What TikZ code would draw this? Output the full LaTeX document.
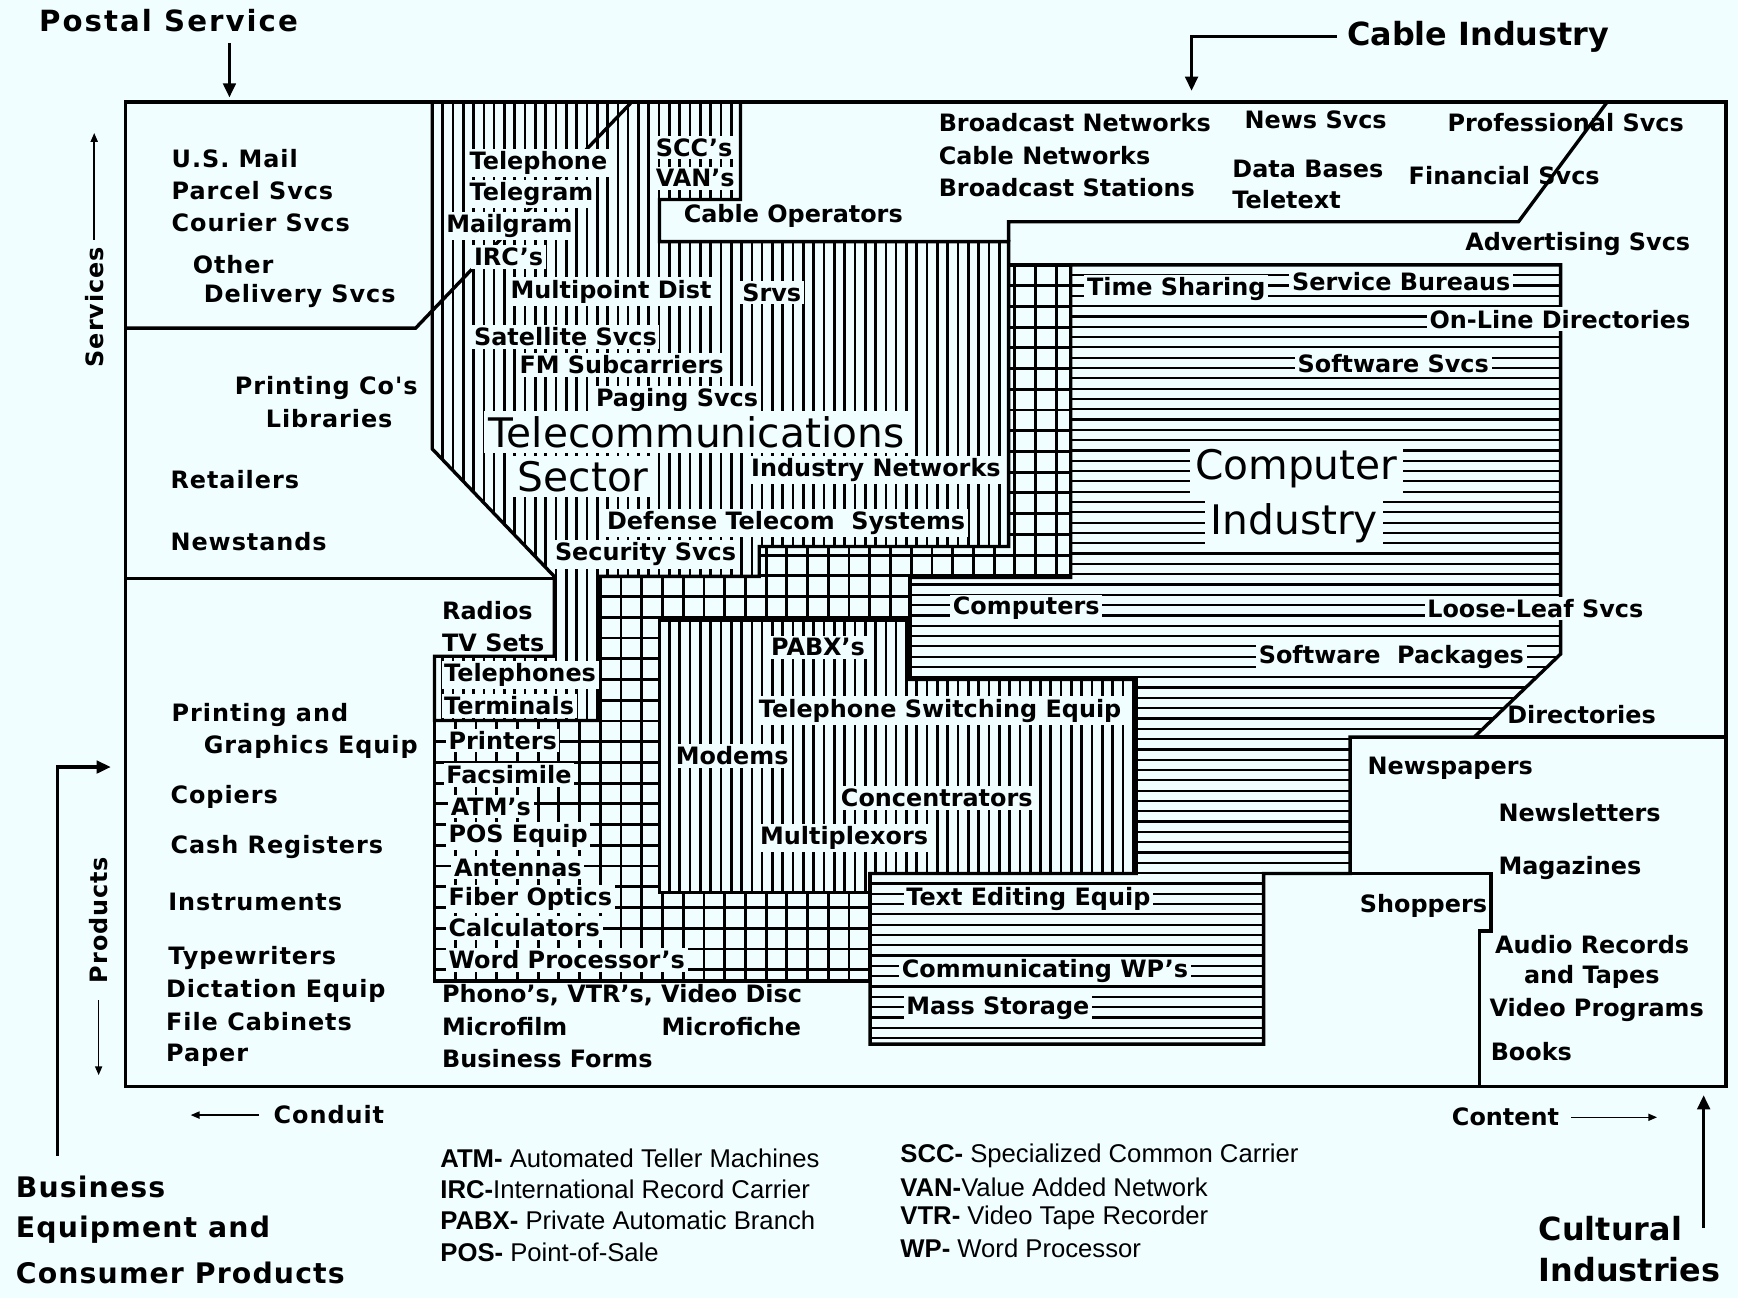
\documentclass[tikz,border=0pt]{standalone}
\usepackage{fontspec}
\setmainfont{DejaVu Sans}
\newfontfamily\spaced{DejaVu Sans}[LetterSpace=4]
\newfontfamily\wider{DejaVu Sans}[LetterSpace=7]
\newfontfamily\legfont{Liberation Sans}
\usetikzlibrary{arrows.meta}
\definecolor{bgc}{RGB}{240,254,255}

% region outlines (picture units = pixels of the map)
\def\telpoly{(390,92) -- (668,92) -- (668,180) -- (595,180) -- (595,218) -- (910,218) -- (910,493) -- (685,493) -- (685,520) -- (540,520) -- (540,650) -- (392,650) -- (392,592) -- (500,592) -- (500,520) -- (390,405) -- cycle}
\def\modempoly{(595,560) -- (821,560) -- (821,613) -- (1025,613) -- (1025,788) -- (785,788) -- (785,805) -- (595,805) -- cycle}
\def\gridpoly{(540,520) -- (685,520) -- (685,493) -- (910,493) -- (910,239) -- (966,239) -- (966,521) -- (821,521) -- (821,560) -- (595,560) -- (595,805) -- (785,805) -- (785,885) -- (392,885) -- (392,650) -- (540,650) -- cycle}
\def\comppoly{(966,239) -- (1408,239) -- (1408,590) -- (1330,665) -- (1218,665) -- (1218,788) -- (1140,788) -- (1140,942) -- (785,942) -- (785,788) -- (1025,788) -- (1025,613) -- (821,613) -- (821,521) -- (966,521) -- cycle}

\begin{document}
\begin{tikzpicture}[
    x=0.22mm, y=-0.22mm,
    frame/.style={line width=1.9pt},
    vhatch/.style={line width=1.5pt},
    hhatch/.style={line width=1.25pt},
    gline/.style={line width=1.6pt},
    svc/.style={anchor=west, inner sep=1pt, font=\spaced\bfseries\fontsize{13.5}{16}\selectfont},
    txt/.style={anchor=west, inner sep=1pt, font=\bfseries\fontsize{13.5}{16}\selectfont},
    lbl/.style={txt, fill=bgc, inner sep=1.5pt},
    sector/.style={anchor=west, inner sep=3pt, fill=bgc, font=\fontsize{23}{26}\selectfont},
    heading/.style={anchor=west, inner sep=0pt, font=\bfseries\fontsize{18}{22}\selectfont},
    legend/.style={anchor=west, inner sep=0pt, font=\legfont\fontsize{14.5}{17}\selectfont},
    bigarrow/.style={-{Triangle[length=8pt,width=7pt]}, line width=1.9pt},
    thinarrow/.style={-{Triangle[length=5pt,width=4pt]}, line width=0.9pt}
]

\useasboundingbox (0,0) rectangle (1568,1171);
\fill[bgc] (0,0) rectangle (1568,1171);

% Telecom only: vertical hatching
\begin{scope}
    \clip \telpoly \modempoly;
    \foreach \x in {390,399.3,...,1030}
        \draw[vhatch] (\x,90) -- (\x,810);
\end{scope}

% Telecom and computer: grid
\begin{scope}
    \clip \gridpoly;
    \foreach \x in {392,410.7,...,970}
        \draw[gline] (\x,235) -- (\x,890);
    \foreach \y in {239,257.7,...,890}
        \draw[gline] (385,\y) -- (970,\y);
\end{scope}

% Computer only: horizontal hatching
\begin{scope}
    \clip \comppoly;
    \foreach \y in {239,248.3,...,945}
        \draw[hhatch] (780,\y) -- (1410,\y);
\end{scope}

% Outlines
\draw[frame] (113,92) rectangle (1557,980);
\draw[frame] \telpoly;
\draw[frame] \modempoly;
\draw[frame] \gridpoly;
\draw[frame] \comppoly;
\draw[frame] (113,296) -- (375,296) -- (570,92);
\draw[frame] (113,522) -- (500,522);
\draw[frame] (910,218) -- (910,200) -- (1370,200) -- (1450,92);
\draw[frame] (1330,665) -- (1557,665);
\draw[frame] (1140,788) -- (1345,788) -- (1345,840) -- (1335,840) -- (1335,980);

% Postal and delivery services
\node[svc] (mail) at (153,143) {U.S. Mail};
\node[svc] (parcel) at (153,172) {Parcel Svcs};
\node[svc] (courier) at (153,201) {Courier Svcs};
\node[svc] (other) at (172,239) {Other};
\node[svc] (delivery) at (182,267) {Delivery Svcs};
\node[svc] (printco) at (210,350) {Printing Co's};
\node[svc] (libraries) at (238,378) {Libraries};
\node[svc] (retailers) at (152,433) {Retailers};
\node[svc] (newstands) at (152,489) {Newstands};

% Business equipment
\node[svc] (printeq) at (153,645) {Printing and};
\node[svc] (graphics) at (182,674) {Graphics Equip};
\node[svc] (copiers) at (152,719) {Copiers};
\node[svc] (cash) at (152,764) {Cash Registers};
\node[svc] (instruments) at (150,814) {Instruments};
\node[svc] (typewriters) at (150,864) {Typewriters};
\node[svc] (dictation) at (148,894) {Dictation Equip};
\node[svc] (cabinets) at (148,922) {File Cabinets};
\node[svc] (paper) at (148,952) {Paper};

% Telecommunications sector
\node[lbl] (telephone) at (421,147) {Telephone};
\node[lbl] (telegram) at (421,175) {Telegram};
\node[lbl] (mailgram) at (400,204) {Mailgram};
\node[lbl] (irc) at (425,232) {IRC's};
\node[lbl] (scc) at (589,133) {SCC's};
\node[lbl] (van) at (589,161) {VAN's};
\node[lbl] (mpd) at (458,263) {Multipoint Dist};
\node[lbl] (srvs) at (667,264) {Srvs};
\node[lbl] (satellite) at (425,304) {Satellite Svcs};
\node[lbl] (fm) at (466,329) {FM Subcarriers};
\node[lbl] (paging) at (535,361) {Paging Svcs};
\node[sector] (telecom) at (436,390) {Telecommunications};
\node[sector] (sector) at (462,430) {Sector};
\node[lbl] (indnet) at (675,424) {Industry Networks};
\node[lbl] (defense) at (545,472) {Defense Telecom~~Systems};
\node[lbl] (security) at (498,500) {Security Svcs};

% Content services
\node[txt] (cableop) at (615,195) {Cable Operators};
\node[txt] (bnet) at (845,111) {Broadcast Networks};
\node[txt] (cnet) at (845,140) {Cable Networks};
\node[txt] (bstat) at (845,169) {Broadcast Stations};
\node[txt] (news) at (1121,108) {News Svcs};
\node[txt] (databases) at (1110,152) {Data Bases};
\node[txt] (teletext) at (1110,180) {Teletext};
\node[txt] (profsvc) at (1304,111) {Professional Svcs};
\node[txt] (finsvc) at (1269,158) {Financial Svcs};
\node[txt] (advsvc) at (1320,220) {Advertising Svcs};

% Computer industry
\node[lbl] (timeshare) at (978,261) {Time Sharing};
\node[lbl] (bureaus) at (1163,254) {Service Bureaus};
\node[lbl] (online) at (1287,288) {On-Line Directories};
\node[lbl] (softsvc) at (1168,328) {Software Svcs};
\node[sector] (computer) at (1073,423) {Computer};
\node[sector] (industry) at (1087,472) {Industry};
\node[lbl] (computers) at (857,549) {Computers};
\node[lbl] (looseleaf) at (1285,549) {Loose-Leaf Svcs};
\node[lbl] (softpack) at (1133,593) {Software~~Packages};
\node[txt] (directories) at (1358,645) {Directories};
\node[lbl] (textedit) at (815,811) {Text Editing Equip};
\node[lbl] (commwp) at (811,876) {Communicating WP's};
\node[lbl] (massstor) at (815,910) {Mass Storage};

% Products
\node[txt] (radios) at (397,551) {Radios};
\node[txt] (tvsets) at (397,580) {TV Sets};
\node[lbl] (telephones) at (398,609) {Telephones};
\node[lbl] (terminals) at (398,637) {Terminals};
\node[lbl] (printers) at (402,668) {Printers};
\node[lbl] (facsimile) at (400,699) {Facsimile};
\node[lbl] (atms) at (404,728) {ATM's};
\node[lbl] (pos) at (402,754) {POS Equip};
\node[lbl] (antennas) at (407,783) {Antennas};
\node[lbl] (fiber) at (402,811) {Fiber Optics};
\node[lbl] (calculators) at (402,837) {Calculators};
\node[lbl] (wordproc) at (402,866) {Word Processor's};
\node[txt] (phono) at (397,898) {Phono's, VTR's, Video Disc};
\node[txt] (microfilm) at (397,926) {Microfilm};
\node[txt] (microfiche) at (595,926) {Microfiche};
\node[txt] (forms) at (397,955) {Business Forms};
\node[lbl] (pabx) at (693,584) {PABX's};
\node[lbl] (switching) at (682,641) {Telephone Switching Equip};
\node[lbl] (modems) at (607,682) {Modems};
\node[lbl] (concentr) at (756,720) {Concentrators};
\node[lbl] (multiplex) at (683,756) {Multiplexors};

% Cultural products
\node[txt] (newspapers) at (1232,693) {Newspapers};
\node[txt] (newsletters) at (1350,733) {Newsletters};
\node[txt] (magazines) at (1350,783) {Magazines};
\node[txt] (shoppers) at (1225,817) {Shoppers};
\node[txt] (audio) at (1347,852) {Audio Records};
\node[txt] (tapes) at (1373,881) {and Tapes};
\node[txt] (video) at (1342,911) {Video Programs};
\node[txt] (books) at (1343,949) {Books};

% Outside labels and arrows
\node[heading, font=\wider\bfseries\fontsize{16.5}{20}\selectfont] (postal) at (35,19) {Postal Service};
\node[heading] (cable) at (1215,33) {Cable Industry};
\node[svc, rotate=90, anchor=center] (services) at (85,277) {Services};
\node[svc, rotate=90, anchor=center] (products) at (89,830) {Products};
\node[svc] (conduit) at (245,1006) {Conduit};
\node[txt] (content) at (1308,1008) {Content};
\node[heading, font=\spaced\bfseries\fontsize{16}{20}\selectfont] (biz1) at (14,1071) {Business};
\node[heading, font=\spaced\bfseries\fontsize{16}{20}\selectfont] (biz2) at (14,1109) {Equipment and};
\node[heading, font=\spaced\bfseries\fontsize{16}{20}\selectfont] (biz3) at (14,1148) {Consumer Products};
\node[heading] (cult1) at (1388,1108) {Cultural};
\node[heading] (cult2) at (1388,1145) {Industries};

\coordinate (postaltip) at (207,88);
\coordinate (cabletip) at (1075,82);
\coordinate (servtip) at (85,120);
\coordinate (prodtip) at (89,970);
\coordinate (condtip) at (172,1008);
\coordinate (conttip) at (1495,1008);
\coordinate (bizcorner) at (52,692);
\coordinate (biztip) at (100,692);
\coordinate (culttip) at (1537,988);

\draw[bigarrow, shorten <=2mm] (postal.south -| postaltip) -- (postaltip);
\draw[bigarrow, shorten <=2mm] (cable.west) -| (cabletip);
\draw[thinarrow, shorten <=1mm] (services.east) -- (servtip);
\draw[thinarrow, shorten <=3mm] (products.west) -- (prodtip);
\draw[thinarrow, shorten <=2.5mm] (conduit.west) -- (conduit.west -| condtip);
\draw[thinarrow, shorten <=2mm] (content.east) -- (content.east -| conttip);
\draw[bigarrow, shorten <=4mm] (biz1.north -| bizcorner) -- (bizcorner) -- (biztip);
\draw[bigarrow] (cult1.east -| culttip) -- (culttip);

% Abbreviations
\node[legend] (leg1) at (397,1045) {\bfseries ATM-\mdseries\ Automated Teller Machines};
\node[legend] (leg2) at (397,1073) {\bfseries IRC-\mdseries International Record Carrier};
\node[legend] (leg3) at (397,1101) {\bfseries PABX-\mdseries\ Private Automatic Branch};
\node[legend] (leg4) at (397,1130) {\bfseries POS-\mdseries\ Point-of-Sale};
\node[legend] (leg5) at (812,1043) {\bfseries SCC-\mdseries\ Specialized Common Carrier};
\node[legend] (leg6) at (812,1071) {\bfseries VAN-\mdseries Value Added Network};
\node[legend] (leg7) at (812,1099) {\bfseries VTR-\mdseries\ Video Tape Recorder};
\node[legend] (leg8) at (812,1126) {\bfseries WP-\mdseries\ Word Processor};

\end{tikzpicture}
\end{document}
